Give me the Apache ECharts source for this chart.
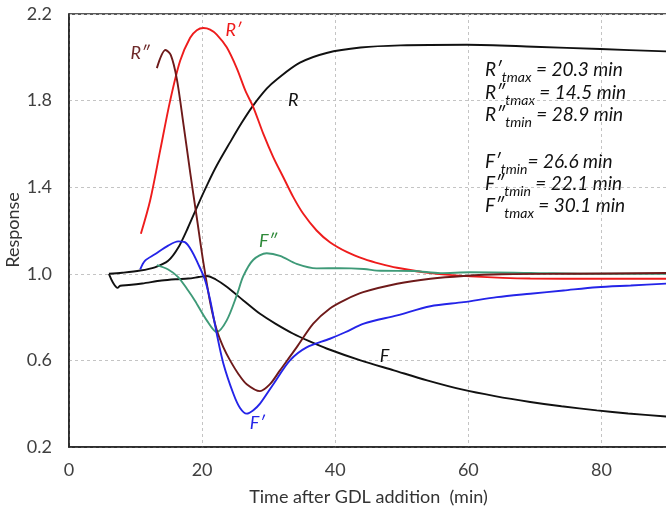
<!DOCTYPE html>
<html>
<head>
<meta charset="utf-8">
<script src="https://cdn.jsdelivr.net/npm/echarts@6/dist/echarts.min.js"></script>
<style>html,body{margin:0;padding:0;background:#fff}#c{width:666px;height:509px}</style>
</head>
<body>
<div id="c"></div>
<script>
// ---- data: [time (min), response] ----
const R = [[6.0,1.0],[8,1.005],[10.7,1.015],[12.9,1.03],[14.9,1.06],[16.4,1.12],[17.9,1.215],[19.4,1.32],[20.9,1.42],[22.2,1.50],[24.2,1.607],[25.9,1.695],[27.5,1.77],[29.7,1.855],[31.3,1.90],[34.7,1.975],[38.7,2.02],[43.8,2.045],[49.8,2.055],[59.8,2.058],[69.8,2.049],[79.8,2.038],[90,2.027]];
const R1 = [[10.8,1.185],[12.2,1.34],[13.7,1.57],[15.2,1.80],[16.7,1.984],[18.2,2.09],[19.2,2.125],[20.2,2.135],[21.2,2.128],[22.2,2.105],[23.7,2.046],[25.2,1.95],[26.5,1.846],[27.7,1.769],[29.2,1.646],[30.7,1.538],[32.2,1.446],[33.7,1.354],[35.2,1.277],[37.2,1.2],[39.2,1.146],[41.8,1.1],[44.3,1.069],[46.8,1.046],[49.3,1.028],[54.3,1.003],[60.3,0.988],[69.3,0.978],[79.3,0.977],[90,0.977]];
const R2 = [[13.2,1.95],[14.5,2.034],[15.3,2.01],[16.2,1.90],[17.2,1.69],[18.2,1.47],[19.2,1.26],[20.2,1.05],[21.2,0.87],[22.2,0.74],[23.2,0.66],[24.2,0.6],[25.5,0.535],[26.7,0.49],[28.7,0.458],[30.2,0.49],[31.7,0.554],[34.2,0.66],[36.7,0.77],[39.2,0.84],[41.5,0.88],[44.2,0.915],[49.3,0.954],[54.3,0.977],[59.3,0.99],[65,0.998],[75,1.0],[90,1.004]];
const F = [[6.0,1.0],[6.6,0.96],[7.3,0.935],[7.7,0.945],[9,0.948],[11,0.955],[13.9,0.969],[16,0.975],[17.9,0.978],[19.5,0.985],[20.7,0.99],[22,0.975],[23.7,0.94],[26.2,0.877],[28.7,0.815],[31,0.77],[33.7,0.723],[36,0.69],[38.7,0.655],[43.8,0.6],[48.8,0.554],[53.8,0.508],[59,0.466],[64,0.435],[69.3,0.408],[74,0.388],[79.3,0.369],[84,0.355],[90,0.34]];
const F1 = [[10.7,1.02],[11.4,1.06],[12.9,1.09],[14.9,1.13],[16.4,1.15],[17.4,1.146],[18.4,1.108],[19.4,1.046],[20.4,0.975],[21.2,0.88],[22.2,0.723],[23.2,0.585],[24.7,0.446],[25.7,0.38],[26.7,0.354],[27.7,0.37],[28.7,0.4],[30.7,0.49],[33.2,0.6],[35.7,0.66],[39.2,0.70],[41.5,0.73],[44.3,0.77],[49.3,0.808],[54.3,0.85],[59.3,0.869],[64.3,0.892],[69.3,0.908],[74.3,0.923],[79.3,0.938],[84.4,0.946],[90,0.955]];
const F2 = [[13.2,1.04],[14.9,1.02],[16.4,0.985],[17.9,0.923],[18.9,0.877],[20.7,0.785],[22.2,0.731],[23.7,0.785],[25.2,0.90],[26.2,0.99],[27.7,1.065],[29.7,1.095],[31.7,1.083],[34.2,1.046],[37.2,1.025],[40.7,1.026],[44.3,1.022],[46.8,1.014],[51.8,1.013],[55.8,1.003],[60.3,1.007],[69.3,1.004],[79.3,1.0],[90,1.0]];
const seriesNames = ['R','R′','R″','F','F′','F″'];
// curve label anchors [time, response]
const labelPos = [[33.7,1.80],[24.7,2.123],[10.7,2.017],[47.4,0.619],[28.3,0.309],[29.9,1.149]];
const xTicks = [0,20,40,60,80];
const yTicks = [0.2,0.6,1.0,1.4,1.8,2.2];
const notes = [['R′','tmax',' = 20.3 min'],['R″','tmax',' = 14.5 min'],['R″','tmin',' = 28.9 min'],['F′','tmin','= 26.6 min'],['F″','tmin',' = 22.1 min'],['F″','tmax',' = 30.1 min']];
const yTitle = 'Response';
const xTitle = 'Time after GDL addition  (min)';

const FONT = 'Lato';
const colors = ['#111111','#ee1c1c','#6e1a1a','#111111','#2424e8','#3f9a78'];
const labelColors = ['#111111','#ee1c1c','#6e2a2a','#111111','#2424e8','#2f8a3a'];
const datas = [R,R1,R2,F,F1,F2];

const chart = echarts.init(document.getElementById('c'), null, {renderer:'canvas'});
const noteY = [72,95,117,164,186,208];
const noteGraphics = notes.map((n,i)=>({
  type:'text', left:485, top:noteY[i]-12, silent:true,
  style:{
    text:'{m|'+n[0]+'}{s|'+n[1]+'}{m|'+n[2]+'}',
    rich:{
      m:{fontFamily:FONT, fontStyle:'italic', fontSize:19, fill:'#111', padding:[0,0,6,0]},
      s:{fontFamily:FONT, fontStyle:'italic', fontSize:14, fill:'#111', padding:[9,0,0,0]}
    }
  }
}));
noteGraphics.push({type:'text', x:13, y:230, rotation:Math.PI/2, silent:true,
  style:{text:yTitle, fontFamily:FONT, fontSize:18, fill:'#333', align:'center', verticalAlign:'middle'}});

const option = {
  animation:false,
  backgroundColor:'#fff',
  grid:{left:69, top:14, width:599, height:433, show:true, borderColor:'#222', borderWidth:1.5, containLabel:false, outerBoundsMode:'none'},
  xAxis:{type:'value', min:0, max:90, interval:20,
    name:xTitle, nameLocation:'middle', nameGap:41,
    nameTextStyle:{fontFamily:FONT, fontSize:18, color:'#333'},
    axisLine:{show:true, lineStyle:{color:'#222', width:1.5}},
    axisTick:{show:false},
    axisLabel:{fontFamily:FONT, fontSize:18, color:'#404040', margin:14, showMaxLabel:false,
      formatter:v=> xTicks.includes(v)? String(v):''},
    splitLine:{show:true, lineStyle:{color:'#c4c4c4', type:[3,3], width:1}}},
  yAxis:{type:'value', min:yTicks[0], max:yTicks[yTicks.length-1], interval:0.4,
    axisLine:{show:true, lineStyle:{color:'#222', width:1.5}},
    axisTick:{show:false},
    axisLabel:{fontFamily:FONT, fontSize:18, color:'#404040', margin:17, formatter:v=>v.toFixed(1)},
    splitLine:{show:true, lineStyle:{color:'#c4c4c4', type:[3,3], width:1}}},
  series: datas.map((d,i)=>({
    name:seriesNames[i], type:'line', data:d, showSymbol:false, smooth:0.3,
    lineStyle:{color:colors[i], width:1.9}, z: [2,3,4,2,5,3][i],
    markPoint:{symbol:'circle', symbolSize:0, silent:true,
      label:{show:true, formatter:seriesNames[i], fontFamily:FONT, fontStyle:'italic', fontSize:18, color:labelColors[i], position:'inside'},
      data:[{coord:labelPos[i]}]}
  })),
  graphic: noteGraphics
};
chart.setOption(option);
</script>
</body>
</html>
